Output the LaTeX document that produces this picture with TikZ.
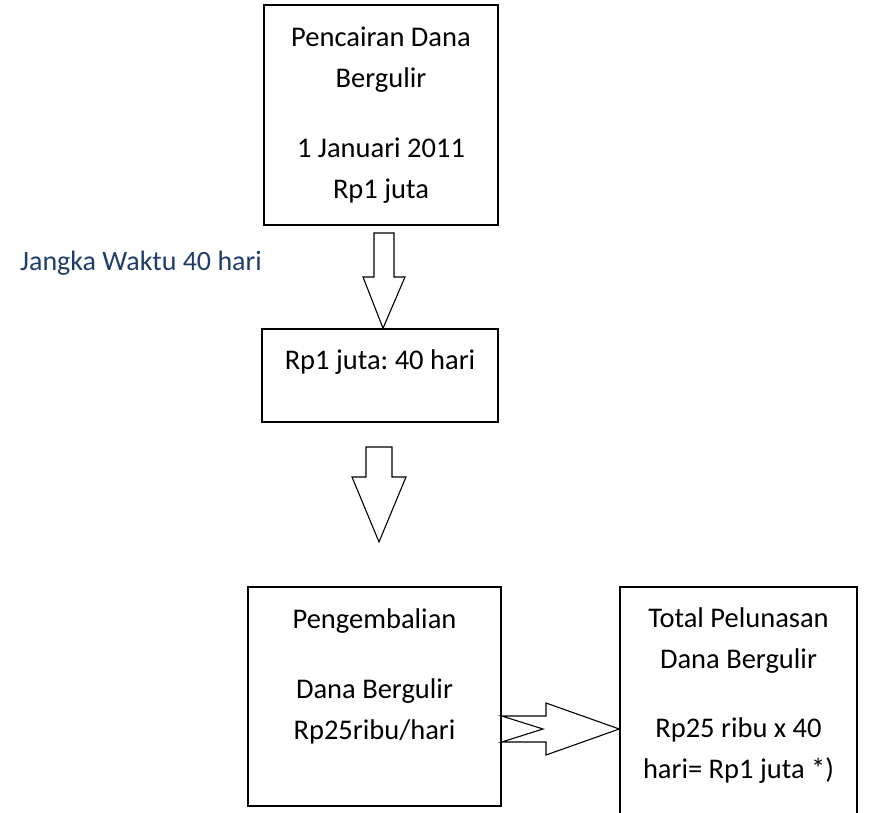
\documentclass[tikz,border=0pt]{standalone}
\usepackage{fontspec}
\setmainfont{Carlito}
\usetikzlibrary{calc}
\definecolor{navyblue}{RGB}{31,61,106}
\frenchspacing
\begin{document}
\begin{tikzpicture}[x=1pt,y=-1pt,
  box/.style={draw=black, line width=1.5pt, inner sep=0pt, fill=none},
  boxtext/.style={align=center, inner sep=0pt, font=\fontsize{28.5}{41}\selectfont},
  bluetext/.style={inner sep=0pt, text=navyblue, font=\fontsize{28}{34}\selectfont},
  blockarrow/.style={draw=black, line width=1.1pt, fill=white, line join=miter}]
\clip (0,0) rectangle (872,813);
% boxes
\node[box, minimum width=234pt, minimum height=220pt] (b1) at (381,115) {};
\node[box, minimum width=236pt, minimum height=93pt] (b2) at (380,375.5) {};
\node[box, minimum width=253pt, minimum height=219pt] (b3) at (374.5,696.5) {};
\node[box, minimum width=237pt, minimum height=253pt] (b4) at (738.5,713.5) {};
% texts
\node[boxtext] (t1) at (381,115) {Pencairan Dana\\Bergulir\\[29pt]1 Januari 2011\\Rp1 juta};
\node[boxtext, anchor=base] (t2) at (380,369) {Rp1 juta: 40 hari};
\node[boxtext] (t3) at (374.5,676) {Pengembalian\\[29pt]Dana Bergulir\\Rp25ribu/hari};
\node[boxtext] (t4) at (738.5,695.5) {Total Pelunasan\\Dana Bergulir\\[28pt]Rp25 ribu x 40\\hari= Rp1 juta *)};
\node[bluetext, anchor=base east] (lbl) at (262,270) {Jangka Waktu 40 hari};
% block arrows
\coordinate (tipA) at ($(b2.north)+(3,0)$);
\coordinate (tipB) at (379,542);
\coordinate (tipC) at ($(b4.west |- 0,729)$);
\draw[blockarrow] (374,233) -- (394,233) -- (394,277) -- (405,277) -- (tipA)
  -- (363,277) -- (374,277) -- cycle;
\draw[blockarrow] (366,447) -- (392,447) -- (392,477) -- (406,477) -- (tipB)
  -- (352,477) -- (366,477) -- cycle;
\draw[blockarrow] ($(b3.east |- 0,716)$) -- (546,716) -- (546,703) -- (tipC)
  -- (546,755) -- (546,742) -- ($(b3.east |- 0,742)$) -- (543,729) -- cycle;
\end{tikzpicture}
\end{document}
